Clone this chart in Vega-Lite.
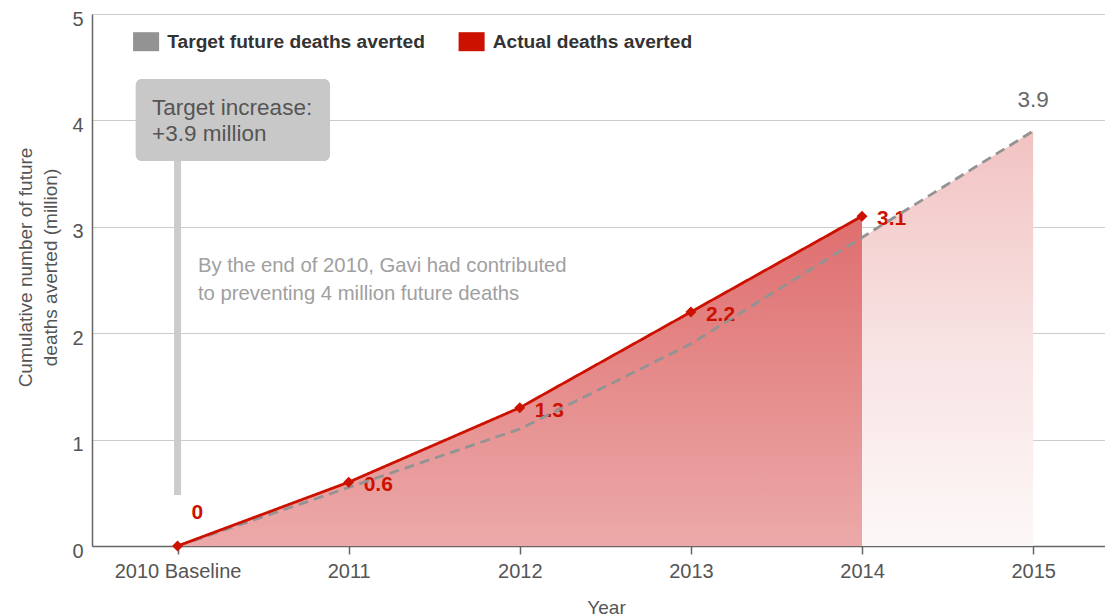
{
  "$schema": "https://vega.github.io/schema/vega-lite/v6.json",
  "width": 1013,
  "height": 532,
  "autosize": {"type": "none"},
  "padding": {"left": 92, "top": 14, "right": 0, "bottom": 70},
  "background": "white",
  "config": {
    "view": {"stroke": null},
    "font": "Liberation Sans",
    "text": {"font": "Liberation Sans"}
  },
  "data": {
    "values": [
      {"year": 2010, "series": "Target future deaths averted", "value": 0},
      {"year": 2011, "series": "Target future deaths averted", "value": 0.55},
      {"year": 2012, "series": "Target future deaths averted", "value": 1.1},
      {"year": 2013, "series": "Target future deaths averted", "value": 1.9},
      {"year": 2014, "series": "Target future deaths averted", "value": 2.9},
      {"year": 2015, "series": "Target future deaths averted", "value": 3.9},
      {"year": 2010, "series": "Actual deaths averted", "value": 0},
      {"year": 2011, "series": "Actual deaths averted", "value": 0.6},
      {"year": 2012, "series": "Actual deaths averted", "value": 1.3},
      {"year": 2013, "series": "Actual deaths averted", "value": 2.2},
      {"year": 2014, "series": "Actual deaths averted", "value": 3.1}
    ]
  },
  "encoding": {
    "x": {
      "field": "year",
      "type": "quantitative",
      "scale": {"domain": [2009.5, 2015.42], "nice": false, "zero": false},
      "axis": {
        "title": "Year",
        "values": [2010, 2011, 2012, 2013, 2014, 2015],
        "format": "d",
        "labelExpr": "datum.value == 2010 ? '2010 Baseline' : datum.label",
        "grid": false,
        "domainColor": "#666666",
        "domainWidth": 1.5,
        "tickColor": "#666666",
        "tickWidth": 1.5,
        "tickSize": 8,
        "labelPadding": 7,
        "labelFont": "Liberation Sans",
        "labelFontSize": 20,
        "labelColor": "#555555",
        "titleFont": "Liberation Sans",
        "titleFontSize": 19,
        "titleFontWeight": "normal",
        "titleColor": "#555555",
        "titleX": 514,
        "titleY": 67,
        "titleBaseline": "alphabetic"
      }
    },
    "y": {
      "field": "value",
      "type": "quantitative",
      "scale": {"domain": [0, 5], "nice": false},
      "axis": {
        "title": ["Cumulative number of future", "deaths averted (million)"],
        "values": [0, 1, 2, 3, 4, 5],
        "grid": true,
        "gridColor": "#cccccc",
        "gridWidth": 1,
        "domainColor": "#666666",
        "domainWidth": 1.5,
        "ticks": false,
        "labelPadding": 9,
        "labelOffset": 5,
        "labelFont": "Liberation Sans",
        "labelFontSize": 20,
        "labelColor": "#555555",
        "titleFont": "Liberation Sans",
        "titleFontSize": 19,
        "titleFontWeight": "normal",
        "titleColor": "#555555",
        "titleAngle": -90,
        "titleAlign": "center",
        "titleBaseline": "middle",
        "titleLineHeight": 25,
        "titleX": -67,
        "titleY": 253
      }
    }
  },
  "layer": [
    {
      "transform": [{"filter": "datum.series == 'Actual deaths averted'"}],
      "mark": {
        "type": "area",
        "color": {
          "gradient": "linear",
          "x1": 0, "y1": 0, "x2": 0, "y2": 1,
          "stops": [
            {"offset": 0, "color": "#df6e6e"},
            {"offset": 1, "color": "#eca9a9"}
          ]
        }
      }
    },
    {
      "transform": [{"filter": "datum.series == 'Target future deaths averted' && datum.year >= 2014"}],
      "mark": {
        "type": "area",
        "color": {
          "gradient": "linear",
          "x1": 0, "y1": 0, "x2": 0, "y2": 1,
          "stops": [
            {"offset": 0, "color": "#f2c2c2"},
            {"offset": 0.5, "color": "#f8e2e2"},
            {"offset": 1, "color": "#fdf8f8"}
          ]
        }
      }
    },
    {
      "transform": [{"filter": "datum.series == 'Actual deaths averted' && datum.year == 2010"}],
      "mark": {"type": "rule", "color": "#cccccc", "strokeWidth": 7},
      "encoding": {
        "x": {"datum": 2010, "type": "quantitative"},
        "y": {"datum": 3.62, "type": "quantitative"},
        "y2": {"datum": 0.48}
      }
    },
    {
      "transform": [{"filter": "datum.series == 'Actual deaths averted' && datum.year == 2010"}],
      "mark": {"type": "rect", "color": "#c8c8c8", "cornerRadius": 6},
      "encoding": {
        "x": {"datum": 2009.755, "type": "quantitative"},
        "x2": {"datum": 2010.891},
        "y": {"datum": 4.389, "type": "quantitative"},
        "y2": {"datum": 3.618}
      }
    },
    {
      "transform": [{"filter": "datum.series == 'Actual deaths averted' && datum.year == 2010"}],
      "mark": {
        "type": "text",
        "text": ["Target increase:", "+3.9 million"],
        "align": "left",
        "baseline": "alphabetic",
        "fontSize": 22.5,
        "lineHeight": 26,
        "color": "#555555"
      },
      "encoding": {
        "x": {"datum": 2009.851, "type": "quantitative"},
        "y": {"datum": 4.051, "type": "quantitative"}
      }
    },
    {
      "transform": [{"filter": "datum.series == 'Actual deaths averted' && datum.year == 2010"}],
      "mark": {
        "type": "text",
        "text": ["By the end of 2010, Gavi had contributed", "to preventing 4 million future deaths"],
        "align": "left",
        "baseline": "alphabetic",
        "fontSize": 20.3,
        "lineHeight": 28,
        "color": "#a0a0a0"
      },
      "encoding": {
        "x": {"datum": 2010.119, "type": "quantitative"},
        "y": {"datum": 2.575, "type": "quantitative"}
      }
    },
    {
      "transform": [{"filter": "datum.series == 'Actual deaths averted' && datum.year > 2010"}],
      "mark": {
        "type": "text",
        "align": "left",
        "baseline": "middle",
        "dx": 15,
        "dy": 3,
        "fontSize": 21,
        "fontWeight": "bold",
        "color": "#cc1100"
      },
      "encoding": {"text": {"field": "value", "type": "quantitative"}}
    },
    {
      "transform": [{"filter": "datum.series == 'Actual deaths averted' && datum.year == 2010"}],
      "mark": {
        "type": "text",
        "align": "left",
        "baseline": "middle",
        "dx": 14,
        "dy": -33,
        "fontSize": 21,
        "fontWeight": "bold",
        "color": "#cc1100"
      },
      "encoding": {"text": {"field": "value", "type": "quantitative"}}
    },
    {
      "transform": [{"filter": "datum.series == 'Target future deaths averted' && datum.year == 2015"}],
      "mark": {
        "type": "text",
        "align": "center",
        "baseline": "middle",
        "dy": -31,
        "fontSize": 22.5,
        "color": "#666666"
      },
      "encoding": {"text": {"field": "value", "type": "quantitative"}}
    },
    {
      "mark": {"type": "line", "strokeWidth": 2.8},
      "encoding": {
        "color": {
          "field": "series",
          "type": "nominal",
          "scale": {
            "domain": ["Target future deaths averted", "Actual deaths averted"],
            "range": ["#939393", "#cc1100"]
          },
          "legend": {
            "title": null,
            "orient": "none",
            "direction": "horizontal",
            "legendX": 44.5,
            "legendY": 18,
            "padding": 0,
            "symbolType": "M-1.37,-1H1.37V1H-1.37Z",
            "symbolSize": 361,
            "symbolStrokeWidth": 0,
            "labelFont": "Liberation Sans",
            "labelFontSize": 19.2,
            "labelFontWeight": "bold",
            "labelColor": "#333333",
            "labelOffset": 11.5,
            "columnPadding": 32.5,
            "labelLimit": 400,
            "encode": {
              "symbols": {
                "update": {
                  "fill": {"scale": "color", "field": "value"},
                  "strokeWidth": {"value": 0},
                  "opacity": {"value": 1}
                }
              }
            }
          }
        },
        "strokeDash": {
          "field": "series",
          "type": "nominal",
          "scale": {
            "domain": ["Target future deaths averted", "Actual deaths averted"],
            "range": [[10, 6], [1, 0]]
          },
          "legend": null
        }
      }
    },
    {
      "transform": [{"filter": "datum.series == 'Actual deaths averted'"}],
      "mark": {"type": "point", "shape": "diamond", "filled": true, "size": 120, "color": "#cc1100", "opacity": 1}
    }
  ]
}
